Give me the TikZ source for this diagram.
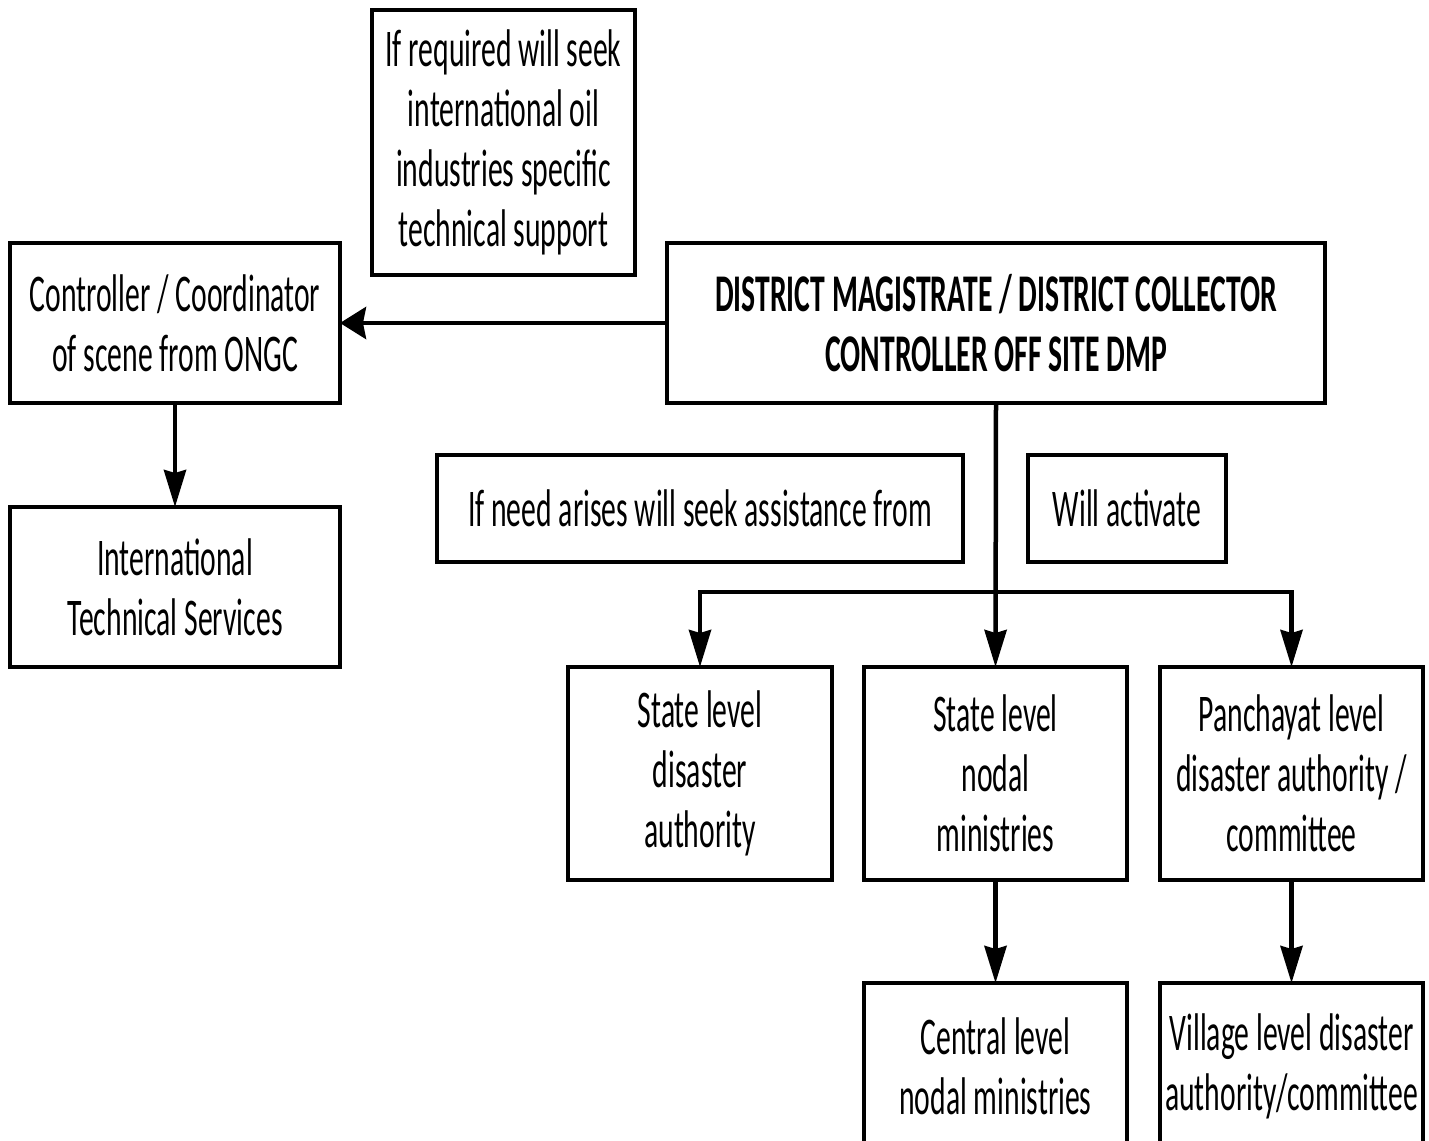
\documentclass[tikz,border=0pt]{standalone}
\usepackage{fontspec}
\setmainfont{Carlito}[FakeStretch=0.56]
\usetikzlibrary{arrows.meta}

\begin{document}
\begin{tikzpicture}[x=1pt,y=-1pt,
  box/.style={draw=black, line width=4.5pt, rectangle, inner sep=0pt, outer sep=0pt,
    align=center, font=\fontsize{53}{60}\selectfont},
  link/.style={line width=4.5pt, line join=miter},
  varr/.style={link, -{Stealth[length=37pt,width=22pt,inset=3pt]}},
  harr/.style={link, -{Stealth[length=26pt,width=32pt,inset=3pt]}}]
  \fill[white] (0,0) rectangle (1429,1140);
  \clip (0,0) rectangle (1429,1140);

  % top row
  \node[box, minimum width=263pt, minimum height=265pt] (sup) at (503.5,142.5)
    {If required will seek\\international oil\\industries specific\\technical support};
  \node[box, minimum width=330pt, minimum height=160pt] (ctrl) at (175,323)
    {Controller / Coordinator\\of scene from ONGC};
  \node[box, minimum width=658pt, minimum height=160pt, font=\fontsize{53}{60}\selectfont\bfseries] (dm) at (996,323)
    {DISTRICT MAGISTRATE / DISTRICT COLLECTOR\\CONTROLLER OFF SITE DMP};
  \node[box, minimum width=330pt, minimum height=160pt] (its) at (175,587)
    {International\\Technical Services};

  % captions on the branch
  \node[box, minimum width=526pt, minimum height=107pt] (need) at (700,508.5)
    {If need arises will seek assistance from};
  \node[box, minimum width=198pt, minimum height=107pt] (act) at (1127,508.5)
    {Will activate};

  % level boxes
  \node[box, minimum width=264pt, minimum height=213pt] (sdis) at (700,773.5)
    {State level\\disaster\\authority};
  \node[box, minimum width=263pt, minimum height=213pt] (snod) at (995.5,773.5)
    {State level\\nodal\\ministries};
  \node[box, minimum width=263pt, minimum height=213pt] (pan) at (1291.5,773.5)
    {Panchayat level\\disaster authority /\\committee};
  \node[box, minimum width=263pt, minimum height=167pt] (cen) at (995.5,1066.5)
    {Central level\\nodal ministries};
  \node[box, minimum width=263pt, minimum height=167pt] (vil) at (1291.5,1066.5)
    {Village level disaster\\authority/committee};

  % connectors
  \coordinate (bar) at (996,592);
  \draw[harr] (dm.west) -- (ctrl.east);
  \draw[varr] (ctrl.south) -- (its.north);
  \draw[varr] (dm.south) -- (snod.north);
  \draw[varr] (bar) -| (sdis.north);
  \draw[varr] (bar) -| (pan.north);
  \draw[varr] (snod.south) -- (cen.north);
  \draw[varr] (pan.south) -- (vil.north);
\end{tikzpicture}
\end{document}
